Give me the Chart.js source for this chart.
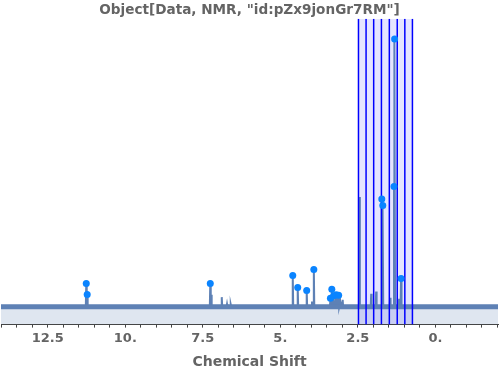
<!DOCTYPE html>
<html>
<head>
<meta charset="utf-8">
<script src="https://cdn.jsdelivr.net/npm/chart.js@4.4.1/dist/chart.umd.min.js"></script>
<style>
  html, body { margin: 0; padding: 0; background: #ffffff; }
  #wrap { width: 500px; height: 371px; }
</style>
</head>
<body>
<div id="wrap"><canvas id="c" width="500" height="371"></canvas></div>
<script>
// ---- Data ----
const chartTitle = 'Object[Data, NMR, "id:pZx9jonGr7RM"]';
const axisTitle = 'Chemical Shift';

// spectrum peaks (chemical shift in ppm, relative intensity)
const specShift = [11.26, 11.23, 7.26, 7.23, 6.89, 6.72, 6.60, 4.60, 4.44, 4.15, 3.98, 3.92,
                   3.385, 3.34, 3.28, 3.20, 3.12, 3.07, 2.99, 2.45, 2.07, 1.91, 1.728, 1.696,
                   1.46, 1.17, 1.335, 1.315, 1.106];
const specHeight = [8.7, 4.6, 8.7, 4.5, 3.6, 1.0, 0.8, 11.7, 7.2, 6.1, 2.0, 13.9,
                    3.2, 6.6, 4.1, 4.5, 4.3, 2.0, 2.6, 41.0, 4.9, 5.7, 40.2, 37.8,
                    3.4, 3.0, 44.9, 100, 10.6];

// picked peaks (dots)
const peakShift = [11.26, 11.23, 7.26, 4.60, 4.44, 4.15, 3.92, 3.385, 3.34, 3.28, 3.20, 3.12,
                   1.728, 1.696, 1.335, 1.315, 1.106];
const peakHeight = [8.7, 4.6, 8.7, 11.7, 7.2, 6.1, 13.9, 3.2, 6.6, 4.1, 4.5, 4.3,
                    40.2, 37.8, 44.9, 100, 10.6];

// highlighted integration region boundaries (ppm)
const regionLines = [2.48, 2.235, 1.99, 1.74, 1.485, 1.23, 0.985, 0.74];

// axis tick labels
const tickValues = [12.5, 10, 7.5, 5, 2.5, 0];
const tickLabels = ['12.5', '10.', '7.5', '5.', '2.5', '0.'];
const minorStep = 0.5;

// axis range
const xMin = -2.02, xMax = 14.01;
const yMin = -6.64, yMax = 107.5;

// ---- Build datasets ----
const peakHalfWidth = 0.015;
const order = specShift.map((s, i) => i).sort((a, b) => specShift[b] - specShift[a]);
const spectrum = [{x: xMax, y: 0}];
order.forEach(i => {
  spectrum.push({x: specShift[i] + peakHalfWidth, y: 0});
  spectrum.push({x: specShift[i], y: specHeight[i]});
  spectrum.push({x: specShift[i] - peakHalfWidth, y: 0});
});
spectrum.push({x: xMin, y: 0});

const lineColor = '#5e81b5';
const datasets = [];

// picked-peak dots (on top)
datasets.push({
  type: 'scatter',
  data: peakShift.map((s, i) => ({x: s, y: peakHeight[i]})),
  backgroundColor: '#0a84ff',
  borderColor: '#0a84ff',
  pointRadius: 3.5,
  borderWidth: 0,
  order: 0
});
// region boundary lines
regionLines.forEach(v => {
  datasets.push({
    type: 'line',
    data: [{x: v, y: yMin}, {x: v, y: yMax}],
    borderColor: '#0000ff',
    borderWidth: 1.5,
    pointRadius: 0,
    fill: false,
    order: 1
  });
});
// baseline (noise band)
datasets.push({
  type: 'line',
  data: [{x: xMax, y: 0}, {x: xMin, y: 0}],
  borderColor: lineColor,
  borderWidth: 5,
  pointRadius: 0,
  fill: false,
  order: 2
});
// spectrum line
datasets.push({
  type: 'line',
  data: spectrum,
  borderColor: lineColor,
  borderWidth: 2,
  pointRadius: 0,
  fill: false,
  tension: 0,
  order: 3
});
// region band
datasets.push({
  type: 'line',
  data: [{x: regionLines[0], y: yMax}, {x: regionLines[regionLines.length - 1], y: yMax}],
  borderWidth: 0,
  borderColor: 'rgba(0,0,0,0)',
  backgroundColor: 'rgba(0,0,255,0.1)',
  pointRadius: 0,
  fill: 'start',
  order: 4
});
// spectrum fill
datasets.push({
  type: 'line',
  data: spectrum,
  borderWidth: 0,
  borderColor: 'rgba(0,0,0,0)',
  backgroundColor: 'rgba(94,129,181,0.2)',
  pointRadius: 0,
  fill: 'start',
  tension: 0,
  order: 5
});

const fontFamily = "'DejaVu Sans', 'Liberation Sans', sans-serif";
const textColor = '#646464';

new Chart(document.getElementById('c'), {
  type: 'line',
  data: { datasets },
  options: {
    responsive: false,
    devicePixelRatio: 1,
    animation: false,
    layout: { autoPadding: false, padding: { left: 1, right: 2, top: 0, bottom: 0 } },
    plugins: {
      legend: { display: false },
      tooltip: { enabled: false },
      title: {
        display: true,
        text: chartTitle,
        color: textColor,
        font: { family: fontFamily, size: 13.6, weight: 'bold', lineHeight: 1.2 },
        padding: { top: 2.5, bottom: 0 }
      }
    },
    scales: {
      x: {
        type: 'linear',
        reverse: true,
        min: xMin,
        max: xMax,
        afterBuildTicks: (scale) => {
          const t = [];
          for (let k = Math.ceil(xMin / minorStep); k * minorStep <= xMax; k++) {
            t.push({ value: k * minorStep });
          }
          scale.ticks = t;
        },
        ticks: {
          autoSkip: false,
          maxRotation: 0,
          padding: 3,
          color: textColor,
          font: { family: fontFamily, size: 13, weight: 'bold', lineHeight: 1.2 },
          callback: (value) => {
            const idx = tickValues.findIndex(v => Math.abs(v - value) < 1e-6);
            return idx >= 0 ? tickLabels[idx] : '';
          }
        },
        grid: {
          display: true,
          drawOnChartArea: false,
          drawTicks: true,
          tickLength: 3,
          color: '#444444'
        },
        border: { display: true, color: '#444444', width: 1 },
        title: {
          display: true,
          text: axisTitle,
          color: textColor,
          font: { family: fontFamily, size: 14, weight: 'bold', lineHeight: 1.2 },
          padding: { top: 5, bottom: 0 }
        }
      },
      y: {
        type: 'linear',
        display: false,
        min: yMin,
        max: yMax
      }
    }
  }
});
</script>
</body>
</html>
